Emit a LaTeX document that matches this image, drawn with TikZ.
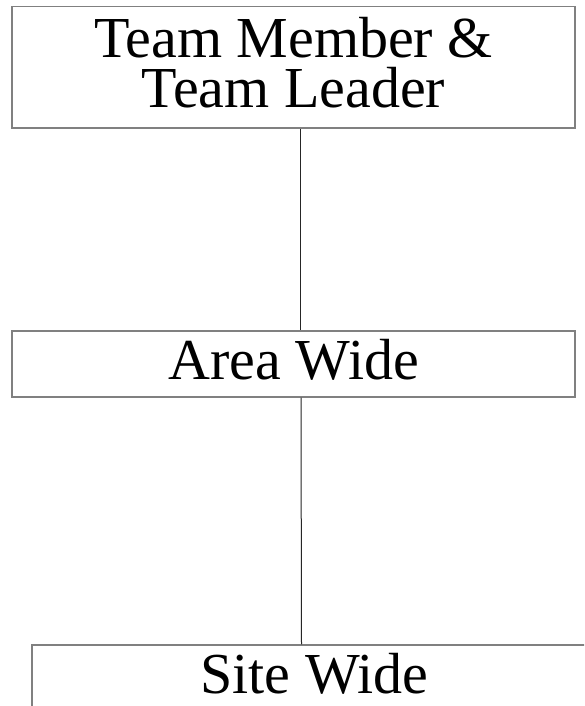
\documentclass[tikz,border=0pt]{standalone}
\usepackage{fontspec}
\setmainfont{Liberation Serif}
\begin{document}
\begin{tikzpicture}[x=1pt,y=-1pt,
  levelbox/.style={draw=black!50, line width=1.5pt, rectangle, inner sep=0pt},
  caption/.style={anchor=base, inner sep=0pt, align=center,
    font=\fontsize{58}{50}\selectfont},
  link/.style={draw=black!85, line width=1pt}]
  \clip (0,0) rectangle (584,706);
  \fill[white] (0,0) rectangle (584,706);

  % level boxes
  \node[levelbox, minimum width=563, minimum height=121.3] (tl) at (293.5,67.35) {};
  \node[levelbox, minimum width=563, minimum height=65.7] (aw) at (293.5,364) {};
  \node[levelbox, minimum width=565, minimum height=120] (sw) at (314.5,705) {};

  % labels (base anchor sits on the last line)
  \node[caption] (tlt) at (293.5,108) {Team Member \&\\Team Leader};
  \node[caption] (awt) at (294,379) {Area Wide};
  \node[caption] (swt) at (314.5,693) {Site Wide};

  % connectors
  \draw[link] ([xshift=7]tl.south) -- ([xshift=7]aw.north);
  \draw[link] ([xshift=7.5]aw.south) -- ([xshift=-13]sw.north);
\end{tikzpicture}
\end{document}
